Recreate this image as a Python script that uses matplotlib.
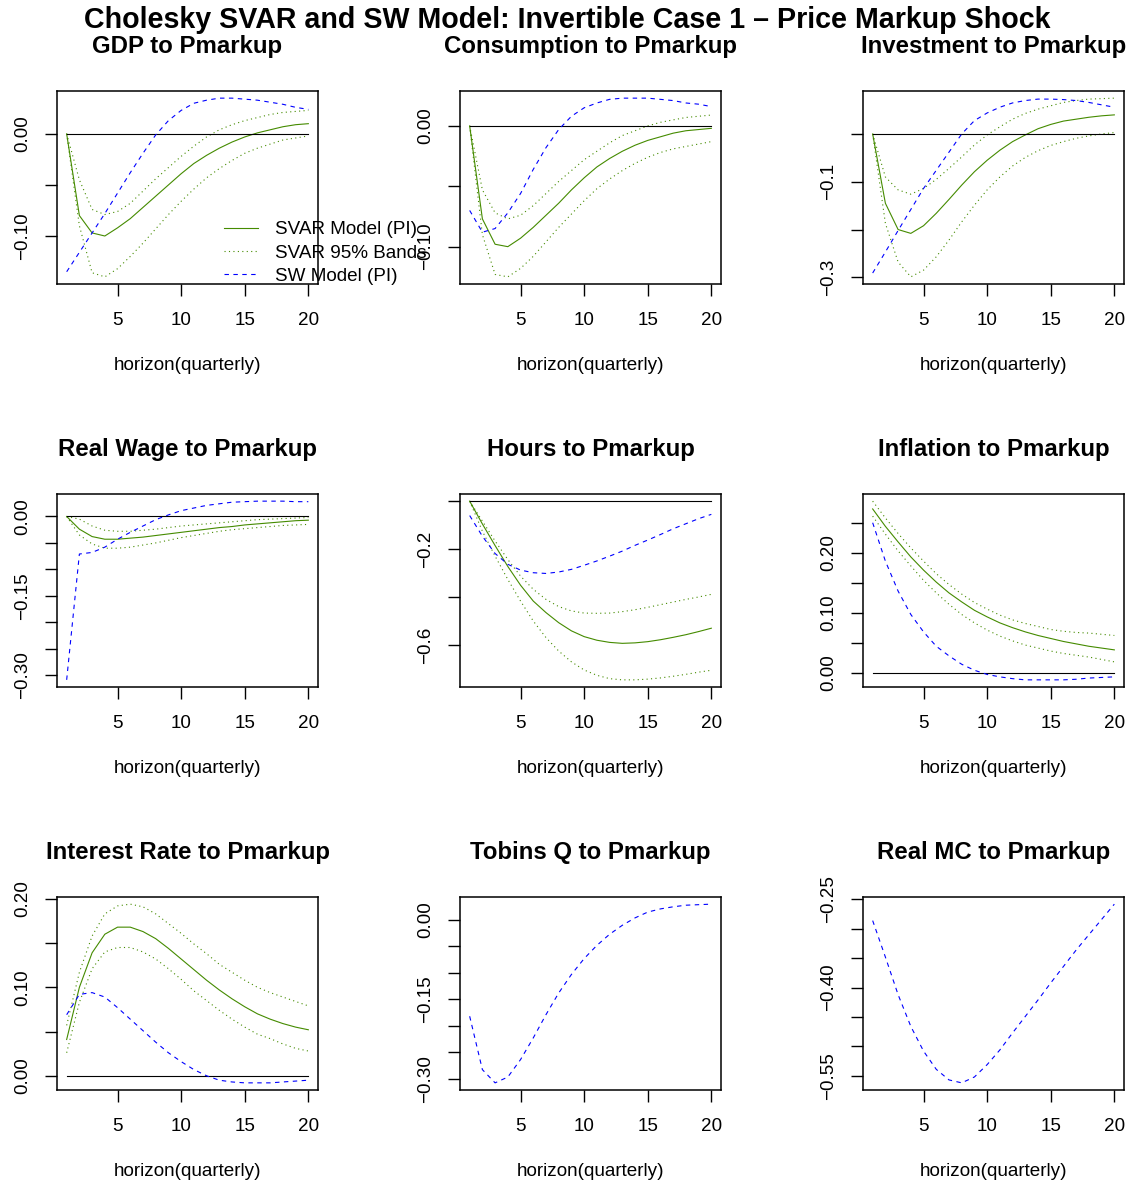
import matplotlib
matplotlib.use('Agg')
import matplotlib.pyplot as plt

plt.rcParams['font.family'] = ['Liberation Sans', 'DejaVu Sans']

horizon = list(range(1, 21))

# GDP
gdp_svar = [0, -0.080, -0.097, -0.100, -0.092, -0.083, -0.072, -0.061, -0.050, -0.039,
            -0.029, -0.021, -0.014, -0.008, -0.003, 0.001, 0.004, 0.007, 0.009, 0.010]
gdp_hi = [0, -0.045, -0.074, -0.079, -0.076, -0.068, -0.056, -0.044, -0.033, -0.022,
          -0.012, -0.003, 0.004, 0.009, 0.013, 0.016, 0.019, 0.021, 0.022, 0.023]
gdp_lo = [0, -0.090, -0.136, -0.140, -0.132, -0.120, -0.107, -0.093, -0.079, -0.066,
          -0.054, -0.043, -0.034, -0.026, -0.019, -0.014, -0.010, -0.006, -0.004, -0.002]
gdp_sw = [-0.135, -0.116, -0.097, -0.078, -0.058, -0.038, -0.019, -0.001, 0.013, 0.023,
          0.030, 0.033, 0.035, 0.035, 0.034, 0.033, 0.031, 0.029, 0.026, 0.024]

# Consumption
cons_svar = [0, -0.077, -0.098, -0.100, -0.093, -0.084, -0.074, -0.064, -0.053, -0.043,
             -0.034, -0.027, -0.021, -0.016, -0.012, -0.009, -0.006, -0.004, -0.003, -0.002]
cons_hi = [0, -0.053, -0.072, -0.077, -0.074, -0.066, -0.056, -0.046, -0.037, -0.028,
           -0.021, -0.014, -0.008, -0.004, 0.000, 0.003, 0.005, 0.007, 0.008, 0.009]
cons_lo = [0, -0.090, -0.123, -0.125, -0.118, -0.108, -0.096, -0.084, -0.073, -0.062,
           -0.052, -0.044, -0.037, -0.031, -0.026, -0.022, -0.019, -0.017, -0.015, -0.013]
cons_sw = [-0.070, -0.088, -0.085, -0.072, -0.056, -0.036, -0.018, -0.003, 0.008, 0.015,
           0.019, 0.022, 0.023, 0.023, 0.023, 0.022, 0.021, 0.019, 0.018, 0.016]

# Investment
inv_svar = [0, -0.145, -0.200, -0.208, -0.192, -0.166, -0.137, -0.107, -0.079, -0.055,
            -0.034, -0.016, -0.002, 0.011, 0.020, 0.027, 0.031, 0.035, 0.038, 0.040]
inv_hi = [0, -0.090, -0.117, -0.126, -0.114, -0.095, -0.072, -0.048, -0.023, -0.002,
          0.015, 0.031, 0.043, 0.052, 0.059, 0.066, 0.070, 0.073, 0.074, 0.075]
inv_lo = [0, -0.187, -0.268, -0.299, -0.285, -0.257, -0.222, -0.184, -0.149, -0.117,
          -0.090, -0.067, -0.049, -0.035, -0.024, -0.016, -0.009, -0.004, 0.000, 0.003]
inv_sw = [-0.291, -0.247, -0.202, -0.158, -0.114, -0.076, -0.038, 0.000, 0.028, 0.044,
          0.056, 0.065, 0.070, 0.073, 0.073, 0.072, 0.070, 0.066, 0.061, 0.056]

# Real wage
wage_svar = [0, -0.024, -0.038, -0.043, -0.043, -0.041, -0.039, -0.036, -0.033, -0.030,
             -0.027, -0.024, -0.021, -0.019, -0.016, -0.014, -0.012, -0.010, -0.008, -0.007]
wage_hi = [0, -0.005, -0.018, -0.026, -0.028, -0.028, -0.026, -0.024, -0.021, -0.018,
           -0.016, -0.014, -0.012, -0.010, -0.008, -0.006, -0.005, -0.004, -0.003, -0.002]
wage_lo = [0, -0.035, -0.052, -0.060, -0.060, -0.058, -0.054, -0.050, -0.045, -0.040,
           -0.036, -0.032, -0.028, -0.025, -0.023, -0.021, -0.019, -0.017, -0.016, -0.015]
wage_sw = [-0.309, -0.071, -0.068, -0.058, -0.043, -0.030, -0.018, -0.006, 0.003, 0.011,
           0.016, 0.021, 0.024, 0.027, 0.028, 0.029, 0.029, 0.029, 0.028, 0.028]

# Hours
hours_svar = [0, -0.095, -0.185, -0.272, -0.350, -0.416, -0.464, -0.506, -0.540, -0.564,
              -0.579, -0.588, -0.592, -0.590, -0.585, -0.577, -0.567, -0.556, -0.543, -0.529]
hours_hi = [0, -0.083, -0.166, -0.243, -0.312, -0.367, -0.409, -0.439, -0.457, -0.466,
            -0.467, -0.466, -0.460, -0.452, -0.442, -0.431, -0.420, -0.409, -0.399, -0.388]
hours_lo = [0, -0.125, -0.229, -0.326, -0.416, -0.499, -0.568, -0.624, -0.669, -0.703,
            -0.725, -0.739, -0.744, -0.744, -0.741, -0.736, -0.729, -0.721, -0.712, -0.704]
hours_sw = [-0.060, -0.146, -0.218, -0.263, -0.287, -0.298, -0.301, -0.295, -0.284, -0.267,
            -0.249, -0.229, -0.208, -0.184, -0.162, -0.139, -0.115, -0.094, -0.073, -0.055]

# Inflation
infl_svar = [0.273, 0.244, 0.218, 0.193, 0.171, 0.151, 0.133, 0.118, 0.104, 0.093,
             0.083, 0.075, 0.068, 0.062, 0.057, 0.052, 0.048, 0.044, 0.041, 0.038]
infl_hi = [0.286, 0.258, 0.232, 0.208, 0.186, 0.165, 0.147, 0.131, 0.117, 0.106,
           0.096, 0.088, 0.082, 0.077, 0.072, 0.069, 0.067, 0.066, 0.064, 0.062]
infl_lo = [0.261, 0.231, 0.203, 0.178, 0.154, 0.133, 0.114, 0.097, 0.083, 0.071,
           0.061, 0.053, 0.046, 0.041, 0.036, 0.032, 0.029, 0.026, 0.022, 0.018]
infl_sw = [0.250, 0.186, 0.136, 0.097, 0.068, 0.044, 0.028, 0.014, 0.004, -0.003,
           -0.007, -0.010, -0.012, -0.012, -0.012, -0.012, -0.011, -0.009, -0.008, -0.007]

# Interest rate
rate_svar = [0.041, 0.100, 0.139, 0.160, 0.168, 0.168, 0.163, 0.155, 0.144, 0.132,
             0.120, 0.108, 0.097, 0.087, 0.078, 0.070, 0.064, 0.059, 0.055, 0.052]
rate_hi = [0.057, 0.117, 0.158, 0.183, 0.192, 0.194, 0.191, 0.183, 0.172, 0.161,
           0.149, 0.138, 0.126, 0.117, 0.108, 0.100, 0.094, 0.089, 0.084, 0.079]
rate_lo = [0.026, 0.083, 0.121, 0.140, 0.145, 0.145, 0.140, 0.132, 0.121, 0.109,
           0.096, 0.085, 0.074, 0.064, 0.055, 0.047, 0.042, 0.036, 0.031, 0.028]
rate_sw = [0.069, 0.092, 0.094, 0.089, 0.077, 0.064, 0.051, 0.038, 0.026, 0.016,
           0.007, 0.000, -0.005, -0.007, -0.008, -0.008, -0.008, -0.007, -0.006, -0.005]

# SW only
tobin_sw = [-0.182, -0.283, -0.308, -0.297, -0.264, -0.223, -0.179, -0.138, -0.103, -0.073,
            -0.048, -0.027, -0.010, 0.004, 0.015, 0.021, 0.025, 0.028, 0.029, 0.030]
mc_sw = [-0.286, -0.348, -0.412, -0.466, -0.508, -0.539, -0.557, -0.562, -0.552, -0.531,
         -0.506, -0.477, -0.449, -0.421, -0.392, -0.364, -0.336, -0.310, -0.284, -0.258]

titles = ['GDP to Pmarkup', 'Consumption to Pmarkup', 'Investment to Pmarkup',
          'Real Wage to Pmarkup', 'Hours to Pmarkup', 'Inflation to Pmarkup',
          'Interest Rate to Pmarkup', 'Tobins Q to Pmarkup', 'Real MC to Pmarkup']

x_ticks = [5, 10, 15, 20]
y_ticks = [
    [0.00, -0.05, -0.10],
    [0.00, -0.05, -0.10],
    [0.0, -0.1, -0.2, -0.3],
    [0.00, -0.05, -0.10, -0.15, -0.20, -0.25, -0.30],
    [0.0, -0.2, -0.4, -0.6],
    [0.00, 0.05, 0.10, 0.15, 0.20, 0.25],
    [0.00, 0.05, 0.10, 0.15, 0.20],
    [0.00, -0.05, -0.10, -0.15, -0.20, -0.25, -0.30],
    [-0.25, -0.30, -0.35, -0.40, -0.45, -0.50, -0.55],
]
y_labels = [
    ['0.00', '', '\u22120.10'],
    ['0.00', '', '\u22120.10'],
    ['', '\u22120.1', '', '\u22120.3'],
    ['0.00', '', '', '\u22120.15', '', '', '\u22120.30'],
    ['', '\u22120.2', '', '\u22120.6'],
    ['0.00', '', '0.10', '', '0.20', ''],
    ['0.00', '', '0.10', '', '0.20'],
    ['0.00', '', '', '\u22120.15', '', '', '\u22120.30'],
    ['\u22120.25', '', '', '\u22120.40', '', '', '\u22120.55'],
]

svar = [gdp_svar, cons_svar, inv_svar, wage_svar, hours_svar, infl_svar, rate_svar, None, None]
band_hi = [gdp_hi, cons_hi, inv_hi, wage_hi, hours_hi, infl_hi, rate_hi, None, None]
band_lo = [gdp_lo, cons_lo, inv_lo, wage_lo, hours_lo, infl_lo, rate_lo, None, None]
sw = [gdp_sw, cons_sw, inv_sw, wage_sw, hours_sw, infl_sw, rate_sw, tobin_sw, mc_sw]

green = '#458B00'
blue = '#0000FF'
W, H = 1134, 1187
lefts = [57, 460, 863]
tops = [91, 494, 897]
bw, bh = 261, 193
fs = 13.6

fig = plt.figure(figsize=(W / 100, H / 100), dpi=100)

for i in range(9):
    r, c = divmod(i, 3)
    ax = fig.add_axes([lefts[c] / W, 1 - (tops[r] + bh) / H, bw / W, bh / H])
    vals = list(sw[i])
    if svar[i] is not None:
        ax.plot(horizon, svar[i], color=green, lw=0.8, label='SVAR Model (PI)')
        ax.plot(horizon, band_hi[i], color=green, lw=0.8, ls=(0, (1, 3)), label='SVAR 95% Bands')
        ax.plot(horizon, band_lo[i], color=green, lw=0.8, ls=(0, (1, 3)))
        ax.plot(horizon, [0] * len(horizon), color='black', lw=0.8)
        vals += svar[i] + band_hi[i] + band_lo[i] + [0]
    ax.plot(horizon, sw[i], color=blue, lw=0.8, ls=(0, (4, 4)), label='SW Model (PI)')

    lo, hi = min(vals), max(vals)
    pad = (hi - lo) * 0.04
    ax.set_ylim(lo - pad, hi + pad)
    ax.set_xlim(1 - 19 * 0.04, 20 + 19 * 0.04)
    ax.set_xticks(x_ticks)
    ax.set_yticks(y_ticks[i])
    ax.set_yticklabels(y_labels[i], rotation=90, va='center')
    ax.tick_params(axis='x', length=8.5, width=1.0, labelsize=fs, pad=12, direction='out')
    ax.tick_params(axis='y', length=8.5, width=1.0, labelsize=fs, pad=10, direction='out')
    for s in ax.spines.values():
        s.set_linewidth(1.1)
    ax.set_xlabel('horizon(quarterly)', fontsize=fs, labelpad=20)
    ax.set_title(titles[i], fontsize=17.3, fontweight='bold', pad=27.5)

    if i == 0:
        ax.legend(loc='upper left', bbox_to_anchor=(0.64, 0.325), frameon=False,
                  fontsize=fs, handlelength=1.8, handletextpad=0.9,
                  labelspacing=0.32, borderpad=0, borderaxespad=0)

fig.suptitle('Cholesky SVAR and SW Model: Invertible Case 1 \u2013 Price Markup Shock',
             fontsize=20.6, fontweight='bold', y=1 - 20 / H, va='center')

fig.savefig('out.png', dpi=100)
